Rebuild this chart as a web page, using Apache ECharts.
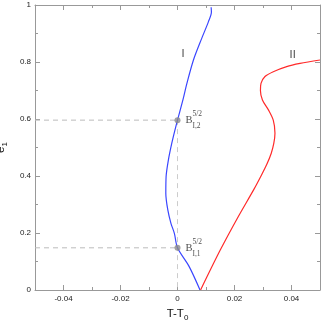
<!DOCTYPE html>
<html><head><meta charset="utf-8">
<script src="https://cdn.jsdelivr.net/npm/echarts@6/dist/echarts.min.js"></script>
<style>html,body{margin:0;padding:0;background:#fff}#c{width:322px;height:320px}</style>
</head><body><div id="c"></div>
<script>
// ---- data ----
var curveI_x = [0.0079, 0.0041, 0.0, -0.0011, -0.0023, -0.0034, -0.0041, -0.0040, -0.0032, -0.0020, -0.0009, 0.0, 0.0019, 0.0033, 0.0056, 0.0085, 0.0108, 0.0119, 0.0118];
var curveI_e = [0.000, 0.082, 0.148, 0.199, 0.234, 0.281, 0.339, 0.398, 0.456, 0.515, 0.561, 0.596, 0.667, 0.725, 0.807, 0.883, 0.940, 0.975, 0.992];
var curveII_x = [0.0081, 0.0150, 0.0213, 0.0268, 0.0293, 0.0313, 0.0329, 0.0338, 0.0342, 0.0336, 0.0319, 0.0298, 0.0291, 0.0293, 0.0307, 0.0336, 0.0383, 0.0430, 0.0500];
var curveII_e = [0.000, 0.140, 0.257, 0.353, 0.400, 0.440, 0.480, 0.515, 0.550, 0.596, 0.632, 0.667, 0.700, 0.725, 0.749, 0.766, 0.784, 0.795, 0.807];
var bifX = [0, 0];
var bifE = [0.148, 0.596];
var bifSub = ['I,1', 'I,2'];
var bifSup = ['5/2', '5/2'];
var curveNames = ['I', 'II'];
var curveNameX = [0.0019, 0.0404];
var curveNameE = [0.828, 0.825];
var xMajor = [-0.04, -0.02, 0, 0.02, 0.04];
var xMinor = [-0.03, -0.01, 0.01, 0.03];
var yMajor = [0, 0.2, 0.4, 0.6, 0.8, 1];
var yMinor = [0.1, 0.3, 0.5, 0.7, 0.9];

function zip(a, b) { return a.map(function (v, i) { return [v, b[i]]; }); }

var axisCol = '#999';
var FONT = 'Liberation Sans';
function xAx(pos, vals, len, withLine, withLabel) {
  return {
    type: 'value', position: pos, min: -0.05, max: 0.05, interval: 0.01,
    axisLine: { show: withLine, onZero: false, lineStyle: { color: axisCol, width: 1 } },
    axisTick: { show: true, inside: true, length: len, customValues: vals, lineStyle: { color: axisCol } },
    axisLabel: withLabel ? { show: true, customValues: vals, margin: 5, fontSize: 8, color: '#222', fontFamily: FONT,
      formatter: function (v) { return Math.abs(v) < 1e-9 ? '0' : String(+v.toFixed(2)); } } : { show: false },
    splitLine: { show: false }
  };
}
function yAx(pos, vals, len, withLine, withLabel) {
  return {
    type: 'value', position: pos, min: 0, max: 1, interval: 0.1,
    axisLine: { show: withLine, onZero: false, lineStyle: { color: axisCol, width: 1 } },
    axisTick: { show: true, inside: true, length: len, customValues: vals, lineStyle: { color: axisCol } },
    axisLabel: withLabel ? { show: true, customValues: vals, margin: 4, fontSize: 8, color: '#222', fontFamily: FONT,
      formatter: function (v) { return String(+v.toFixed(1)); } } : { show: false },
    splitLine: { show: false }
  };
}

var xa0 = xAx('bottom', xMajor, 5, true, true);
xa0.name = '{a|T-T}{s|0}';
xa0.nameLocation = 'middle';
xa0.nameGap = 12;
xa0.nameTextStyle = { rich: {
  a: { fontSize: 11.5, fontFamily: FONT, color: '#111' },
  s: { fontSize: 8, fontFamily: FONT, color: '#111', padding: [8, 0, 0, 0] } } };
var ya0 = yAx('left', yMajor, 5, true, true);
ya0.name = '{a|e}{s|1}';
ya0.nameLocation = 'middle';
ya0.nameGap = 17;
ya0.nameRotate = 90;
ya0.nameTextStyle = { rich: {
  a: { fontSize: 11.5, fontFamily: FONT, color: '#111' },
  s: { fontSize: 8, fontFamily: FONT, color: '#111', padding: [8, 0, 0, 0] } } };

var dashCol = '#bbb';
var series = [];
// dashed guides
bifE.forEach(function (e, i) {
  series.push({ type: 'line', xAxisIndex: 0, yAxisIndex: 0, symbol: 'none', silent: true,
    lineStyle: { color: dashCol, width: 1, type: [5, 4] },
    data: [[-0.05, e], [bifX[i], e]] });
});
series.push({ type: 'line', xAxisIndex: 0, yAxisIndex: 0, symbol: 'none', silent: true,
  lineStyle: { color: '#ccc', width: 1, type: [5, 4] },
  data: [[bifX[1], bifE[1]], [bifX[0], 0]] });
// curves
series.push({ type: 'line', xAxisIndex: 0, yAxisIndex: 0, symbol: 'none', smooth: 0.3,
  lineStyle: { color: '#3a46ff', width: 1.2 }, data: zip(curveI_x, curveI_e) });
series.push({ type: 'line', xAxisIndex: 0, yAxisIndex: 0, symbol: 'none', smooth: 0.3,
  lineStyle: { color: '#ff2a2a', width: 1.2 }, data: zip(curveII_x, curveII_e) });
// bifurcation points with labels
series.push({ type: 'scatter', xAxisIndex: 0, yAxisIndex: 0, symbolSize: 6,
  itemStyle: { color: '#8a8a8a' }, z: 5,
  label: { show: true, position: 'right', distance: 5, formatter: 'B',
    fontFamily: 'Liberation Serif', fontSize: 10.5, color: '#222' },
  data: zip(bifX, bifE) });
series.push({ type: 'scatter', xAxisIndex: 0, yAxisIndex: 0, symbolSize: 0, silent: true,
  label: { show: true, position: 'right', distance: 15, offset: [0, -6],
    formatter: function (p) { return bifSup[p.dataIndex]; },
    fontFamily: 'Liberation Serif', fontSize: 7.5, color: '#222' },
  data: zip(bifX, bifE) });
series.push({ type: 'scatter', xAxisIndex: 0, yAxisIndex: 0, symbolSize: 0, silent: true,
  label: { show: true, position: 'right', distance: 15, offset: [0, 6],
    formatter: function (p) { return bifSub[p.dataIndex]; },
    fontFamily: 'Liberation Serif', fontSize: 7.5, color: '#222' },
  data: zip(bifX, bifE) });
// curve names
series.push({ type: 'scatter', xAxisIndex: 0, yAxisIndex: 0, symbolSize: 0, silent: true,
  label: { show: true, position: 'inside',
    formatter: function (p) { return curveNames[p.dataIndex]; },
    fontFamily: FONT, fontSize: 11, color: '#111' },
  data: zip(curveNameX, curveNameE) });

var chart = echarts.init(document.getElementById('c'), null, { renderer: 'canvas' });
chart.setOption({
  animation: false,
  backgroundColor: '#fff',
  grid: { left: 35, right: 2, top: 5, bottom: 30, containLabel: false, outerBoundsMode: 'none' },
  xAxis: [xa0, xAx('bottom', xMinor, 3, false, false), xAx('top', xMajor, 5, true, false), xAx('top', xMinor, 3, false, false)],
  yAxis: [ya0, yAx('left', yMinor, 3, false, false), yAx('right', yMajor, 5, true, false), yAx('right', yMinor, 3, false, false)],
  series: series
});
</script></body></html>
